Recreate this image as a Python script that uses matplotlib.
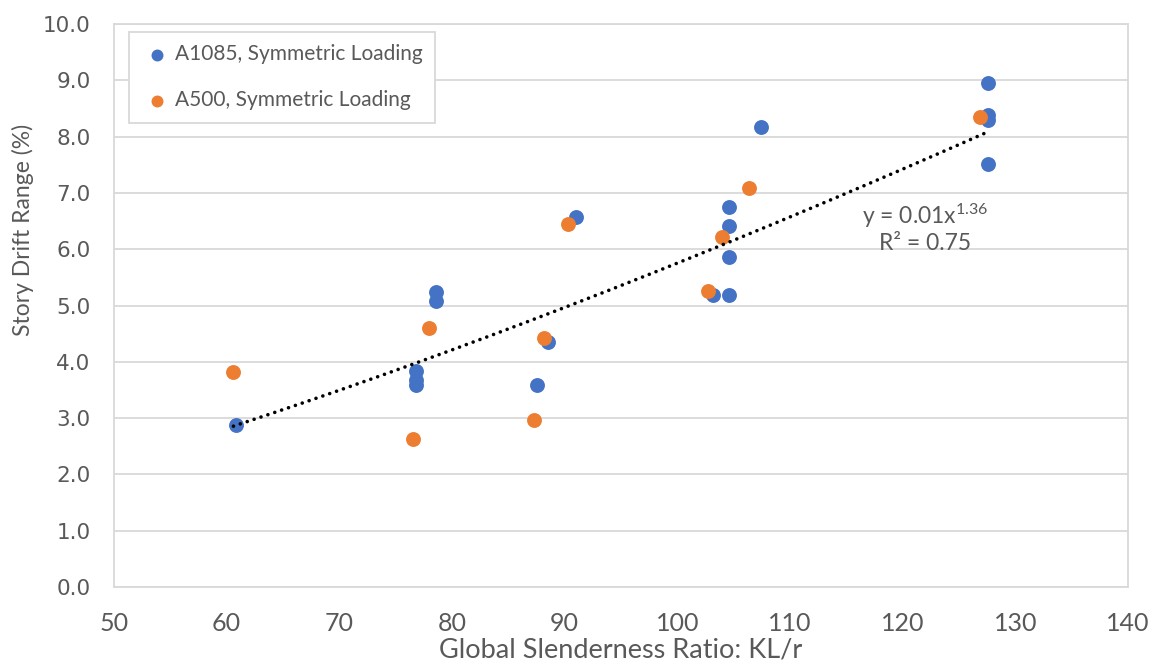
import numpy as np
import matplotlib
matplotlib.use("Agg")
import matplotlib.pyplot as plt

# Global slenderness ratio (KL/r) vs story drift range (%)
a1085_kl = [60.8, 76.8, 76.8, 76.8, 78.6, 78.6, 87.5, 88.5, 91.0,
            103.2, 104.6, 104.6, 104.6, 104.6, 107.4,
            127.6, 127.6, 127.6, 127.6]
a1085_drift = [2.88, 3.84, 3.68, 3.59, 5.24, 5.08, 3.59, 4.35, 6.57,
               5.19, 6.75, 6.41, 5.86, 5.19, 8.17,
               8.95, 8.38, 8.29, 7.51]

a500_kl = [60.6, 76.5, 78.0, 87.3, 88.2, 90.3, 102.7, 104.0, 106.4, 126.9]
a500_drift = [3.82, 2.63, 4.60, 2.97, 4.42, 6.45, 5.26, 6.22, 7.09, 8.35]

series_labels = ["A1085, Symmetric Loading", "A500, Symmetric Loading"]
fit_label = "y = 0.01x$^{1.36}$\nR² = 0.75"

BLUE = "#4472c4"
ORANGE = "#ed7d31"
GRID = "#d9d9d9"
TXT = "#595959"

plt.rcParams["font.family"] = ["Lato", "DejaVu Sans"]
plt.rcParams["mathtext.fontset"] = "custom"
plt.rcParams["mathtext.rm"] = "Lato"
plt.rcParams["mathtext.it"] = "Lato:italic"

fig = plt.figure(figsize=(11.49, 6.69), dpi=100)
ax = fig.add_axes([114 / 1149, 1 - 587 / 669, 1014 / 1149, 563 / 669])

ax.scatter(a1085_kl, a1085_drift, s=115, color=BLUE, zorder=3,
           linewidths=0, label=series_labels[0])
ax.scatter(a500_kl, a500_drift, s=115, color=ORANGE, zorder=3,
           linewidths=0, label=series_labels[1])

# power trendline fitted to both series together (log-log least squares)
all_x = np.array(a1085_kl + a500_kl)
all_y = np.array(a1085_drift + a500_drift)
b, ln_a = np.polyfit(np.log(all_x), np.log(all_y), 1)
xs = np.linspace(all_x.min(), all_x.max(), 200)
ax.plot(xs, np.exp(ln_a) * xs ** b, color="black", lw=2.6,
        linestyle=(0, (0.01, 2.0)), dash_capstyle="round", zorder=4)

ax.text(122.0, 6.38, fit_label, ha="center", va="center", fontsize=16.5,
        color=TXT, linespacing=1.2, zorder=5)

ax.set_xlim(50, 140)
ax.set_ylim(0, 10)
ax.set_xticks(np.arange(50, 141, 10))
ax.set_yticks(np.arange(0, 10.1, 1))
ax.set_yticklabels([f"{v:.1f}" for v in np.arange(0, 10.1, 1)],
                   fontfamily="DejaVu Sans", fontsize=15.5)
ax.tick_params(axis="x", labelsize=18, colors=TXT, length=0, pad=18)
ax.tick_params(axis="y", colors=TXT, length=0, pad=17)

ax.grid(axis="y", color=GRID, lw=1.3)
ax.set_axisbelow(True)
for sp in ax.spines.values():
    sp.set_color(GRID)
    sp.set_linewidth(1.3)

ax.set_xlabel("Global Slenderness Ratio: KL/r", fontsize=19.5, color=TXT,
              labelpad=2)
fig.text(23 / 1149, 1 - 230 / 669, "Story Drift Range (%)", rotation=90,
         ha="center", va="center", fontsize=16.5, color=TXT)

leg = ax.legend(loc="upper left", bbox_to_anchor=(0.0148, 0.986),
                borderaxespad=0, fontsize=15, labelspacing=1.25,
                handletextpad=0.1, handlelength=1.5, borderpad=0.6,
                frameon=True, fancybox=False, framealpha=1,
                edgecolor=GRID, markerscale=0.8)
leg.get_frame().set_linewidth(1.3)
for t in leg.get_texts():
    t.set_color(TXT)

fig.savefig("out.png", dpi=100)
